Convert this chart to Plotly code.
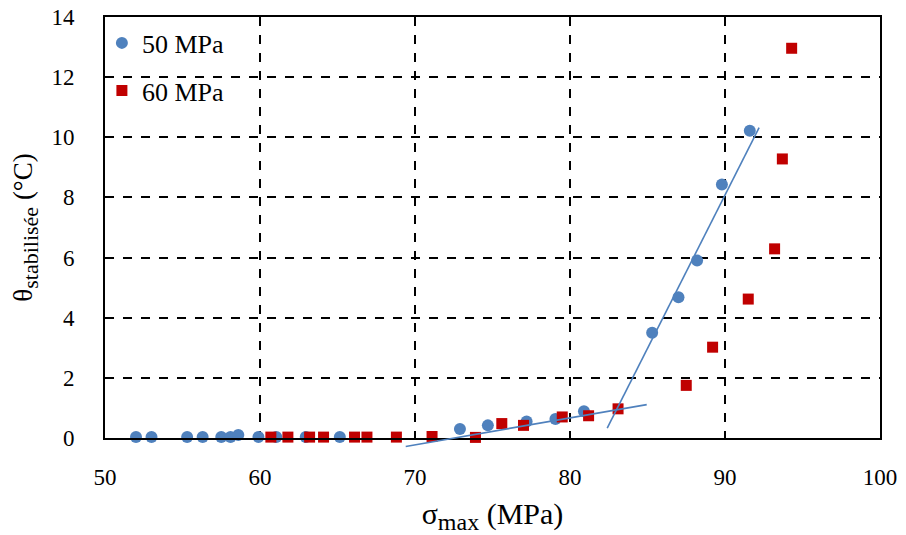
import plotly.graph_objects as go

# 50 MPa series
x50 = [52.0, 53.0, 55.3, 56.3, 57.5, 58.1, 58.6, 59.9, 61.05, 62.95, 65.15,
       72.9, 74.7, 77.2, 79.06, 80.9, 85.3, 87.0, 88.2, 89.8, 91.6]
y50 = [0.03, 0.03, 0.03, 0.03, 0.03, 0.03, 0.1, 0.03, 0.03, 0.03, 0.03,
       0.3, 0.42, 0.55, 0.63, 0.89, 3.5, 4.68, 5.9, 8.43, 10.22]

# 60 MPa series
x60 = [60.7, 61.8, 63.2, 64.1, 66.1, 66.9, 68.8, 71.1, 73.9, 75.6, 77.0,
       79.5, 81.2, 83.1, 87.5, 89.2, 91.5, 93.2, 93.7, 94.3]
y60 = [0.03, 0.03, 0.03, 0.03, 0.03, 0.03, 0.03, 0.05, 0.02, 0.48, 0.42,
       0.7, 0.74, 0.97, 1.75, 3.02, 4.62, 6.29, 9.28, 12.96]

# trend lines (endpoints)
trend1_x = [69.4, 84.95]
trend1_y = [-0.28, 1.11]
trend2_x = [82.4, 92.2]
trend2_y = [0.33, 10.32]

x_ticks = [50, 60, 70, 80, 90, 100]
y_ticks = [0, 2, 4, 6, 8, 10, 12, 14]

X_RANGE = [50, 100]
Y_RANGE = [0, 14]

BLUE = "#4F81BD"
RED = "#C00000"
FONT = "Liberation Serif"

# layout geometry: extra strip below the main plot so trend lines may dip below 0
TOP, BOTTOM, EXTRA = 9, 93, 12
PLOT_H = 535 - TOP - BOTTOM
MAIN_H = PLOT_H - EXTRA
y2_low = Y_RANGE[0] - (Y_RANGE[1] - Y_RANGE[0]) * EXTRA / MAIN_H

fig = go.Figure()
fig.add_trace(go.Scatter(x=x50, y=y50, mode="markers", name="50 MPa",
                         marker=dict(symbol="circle", size=12, color=BLUE),
                         legend="legend", cliponaxis=False))
fig.add_trace(go.Scatter(x=x60, y=y60, mode="markers", name="60 MPa",
                         marker=dict(symbol="square", size=11, color=RED),
                         legend="legend2", cliponaxis=False))
fig.add_trace(go.Scatter(x=trend1_x, y=trend1_y, mode="lines", showlegend=False,
                         xaxis="x2", yaxis="y2",
                         line=dict(color=BLUE, width=1.6)))
fig.add_trace(go.Scatter(x=trend2_x, y=trend2_y, mode="lines", showlegend=False,
                         xaxis="x2", yaxis="y2",
                         line=dict(color=BLUE, width=1.6)))

axis_common = dict(
    showline=True, linecolor="black", linewidth=2, mirror=True,
    showgrid=True, gridcolor="black", gridwidth=1.5, griddash="dash",
    zeroline=False, ticks="", automargin=False, ticklabeloverflow="allow",
    tickfont=dict(family=FONT, size=23, color="black"),
)

fig.update_layout(
    xaxis=dict(range=X_RANGE, tickvals=x_ticks, ticklabelstandoff=17,
               domain=[0, 1], anchor="y",
               title=dict(text="σ<sub><span style='font-size:24px'>max</span></sub> (MPa)",
                          font=dict(family=FONT, size=30, color="black"),
                          standoff=14),
               **axis_common),
    yaxis=dict(range=Y_RANGE, tickvals=y_ticks, ticklabelstandoff=24,
               domain=[EXTRA / PLOT_H, 1], anchor="x",
               title=dict(text="θ<sub><span style='font-size:22px'>stabilisée</span></sub> (°C)",
                          font=dict(family=FONT, size=27, color="black"),
                          standoff=14),
               **axis_common),
    xaxis2=dict(range=X_RANGE, domain=[0, 1], anchor="y2", visible=False),
    yaxis2=dict(range=[y2_low, Y_RANGE[1]], domain=[0, 1], anchor="x2", visible=False),
)

legend_common = dict(font=dict(family=FONT, size=26, color="black"),
                     bgcolor="rgba(0,0,0,0)", xanchor="left", yanchor="middle",
                     itemwidth=30)
fig.update_layout(
    width=906, height=535,
    margin=dict(l=97, r=34, t=TOP, b=BOTTOM),
    plot_bgcolor="rgba(0,0,0,0)", paper_bgcolor="white",
    legend=dict(x=-0.004, y=0.94, **legend_common),
    legend2=dict(x=-0.004, y=0.83, **legend_common),
)

fig.write_html("out.html")
